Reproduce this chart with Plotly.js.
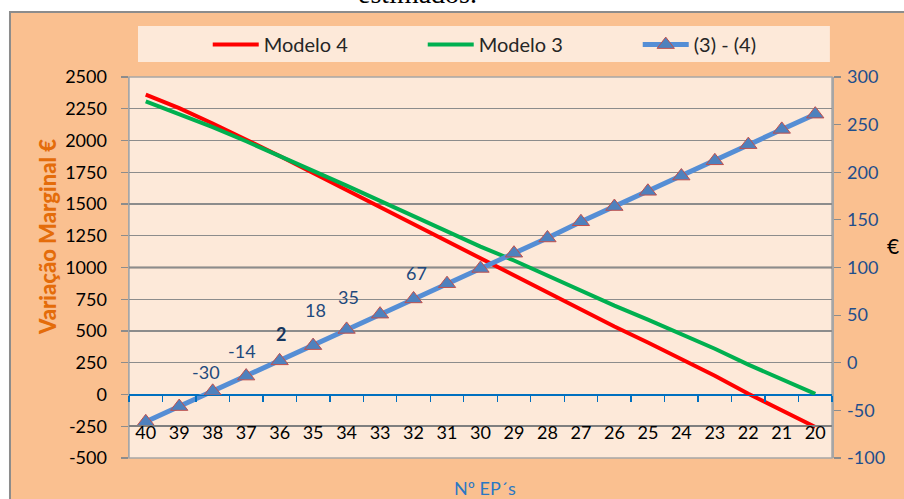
<!DOCTYPE html>
<html>
<head>
<meta charset="utf-8">
<script src="https://cdn.plot.ly/plotly-3.0.1.min.js"></script>
<style>
  html, body { margin: 0; padding: 0; background: #ffffff; }
  #chart { width: 904px; height: 499px; }
</style>
</head>
<body>
<div id="chart"></div>
<script>
// Número de EP's (category axis, read from left to right)
const categories = ['40','39','38','37','36','35','34','33','32','31','30',
                    '29','28','27','26','25','24','23','22','21','20'];

// Variação marginal (€), left axis
const modelo4 = [2362, 2255, 2134, 2008, 1878, 1744, 1610, 1474, 1338, 1202, 1066,
                 940, 804, 667, 536, 410, 279, 148, 6, -125, -256];
const modelo3 = [2308, 2210, 2105, 1994, 1880, 1762, 1645, 1525, 1405, 1285, 1165,
                 1055, 935, 815, 700, 590, 475, 360, 235, 120, 5];

// Diferença (3) - (4) em €, right axis
const diff34 = [-62, -46, -30, -14, 2, 18, 35, 51, 67, 83, 99,
                115, 131, 148, 164, 180, 196, 212, 229, 245, 261];

// Points of (3) - (4) that carry a value label
const labelledCats = ['38', '37', '36', '35', '34', '32'];

// Axis ranges and ticks
const leftRange = [-500, 2500];
const leftStep = 250;
const rightRange = [-100, 300];
const rightStep = 50;

// ---- styling ----
const FONT = 'Lato, "Open Sans", sans-serif';
const ORANGE_BG = '#FAC090';
const PLOT_BG = '#FDE9D9';
const GRID = '#8C8C8C';
const NAVY = '#1F497D';
const AXIS_BLUE = '#0070C0';

// label offsets (px) relative to each labelled point, same order as labelledCats
const labelOffsets = [[-7, 19], [-4, 25], [1, 27], [2, 36], [2, 32], [3, 26]];

// fraction of the plot height where a given left-axis value sits
const yFrac = v => (v - leftRange[0]) / (leftRange[1] - leftRange[0]);

// tick values for a range/step, labelled with a plain hyphen minus
function tickList(range, step) {
  const vals = [];
  for (let v = range[0]; v <= range[1]; v += step) vals.push(v);
  return { tickvals: vals, ticktext: vals.map(v => String(v)) };
}
const leftTicks = tickList(leftRange, leftStep);
const rightTicks = tickList(rightRange, rightStep);
// category boundaries (between neighbouring categories) for the tick marks on the zero axis
const catBounds = categories.concat(['']).map((c, i) => i - 0.5);

const traces = [
  {
    name: 'Modelo 4', type: 'scatter', mode: 'lines',
    x: categories, y: modelo4, xaxis: 'x', yaxis: 'y',
    line: { color: '#FF0000', width: 4 }
  },
  {
    name: 'Modelo 3', type: 'scatter', mode: 'lines',
    x: categories, y: modelo3, xaxis: 'x', yaxis: 'y',
    line: { color: '#00B050', width: 4 }
  },
  {
    name: '(3) - (4)', type: 'scatter', mode: 'lines+markers',
    x: categories, y: diff34, xaxis: 'x', yaxis: 'y2',
    line: { color: '#558ED5', width: 5 },
    marker: { symbol: 'triangle-up', size: 15, color: '#4F81BD',
              line: { color: '#C0504D', width: 1 } }
  },
  // empty trace: gives the zero-crossing axis (x2 on y3) its own subplot
  {
    type: 'scatter', x: [], y: [], xaxis: 'x2', yaxis: 'y3',
    showlegend: false, hoverinfo: 'skip'
  }
];

const valueLabels = labelledCats.map((c, k) => {
  const idx = categories.indexOf(c);
  const v = diff34[idx];
  const bold = v === 2;
  return {
    xref: 'x', yref: 'y2', x: idx, y: v,
    text: bold ? '<b>' + v + '</b>' : String(v),
    showarrow: false,
    xshift: labelOffsets[k][0], yshift: labelOffsets[k][1],
    font: { family: FONT, size: 18, color: bold ? '#17375E' : NAVY }
  };
});

const layout = {
  width: 904, height: 499,
  margin: { l: 129, r: 72, t: 77, b: 41 },
  paper_bgcolor: '#ffffff',
  plot_bgcolor: 'rgba(0,0,0,0)',
  showlegend: true,
  legend: {
    orientation: 'h', x: 0.112, xanchor: 'left', y: 1.085, yanchor: 'middle',
    bgcolor: 'rgba(0,0,0,0)', font: { family: FONT, size: 20, color: '#262626' },
    entrywidth: 154, itemwidth: 46, traceorder: 'normal'
  },
  // category labels, sitting on the -250 line
  xaxis: {
    type: 'category', categoryorder: 'array', categoryarray: categories,
    range: [-0.5, categories.length - 0.5],
    anchor: 'free', position: yFrac(-250),
    showline: true, linecolor: '#7F7F7F', linewidth: 2,
    ticks: '', showgrid: false, zeroline: false,
    ticklabelstandoff: -10,
    tickfont: { family: FONT, size: 18, color: '#000000' }
  },
  // horizontal axis crossing at zero: bottom edge of y3, whose domain starts at 0 €
  xaxis2: {
    anchor: 'y3', domain: [0, 1],
    range: [-0.5, categories.length - 0.5],
    tickmode: 'array', tickvals: catBounds, showticklabels: false,
    showline: true, linecolor: AXIS_BLUE, linewidth: 1.3,
    ticks: 'outside', ticklen: 6, tickcolor: AXIS_BLUE, tickwidth: 1.3,
    showgrid: false, zeroline: false
  },
  yaxis3: {
    anchor: 'x2', domain: [yFrac(0), 1], visible: false,
    range: [0, 1], showgrid: false, zeroline: false
  },
  yaxis: {
    range: leftRange, tickmode: 'array',
    tickvals: leftTicks.tickvals, ticktext: leftTicks.ticktext,
    showgrid: true, gridcolor: GRID, gridwidth: 1.2,
    zeroline: true, zerolinecolor: AXIS_BLUE, zerolinewidth: 1.3,
    showline: true, linecolor: '#A6A6A6', linewidth: 1.5, mirror: false,
    ticks: 'outside', ticklen: 7, tickcolor: GRID, tickwidth: 1.2,
    ticklabelstandoff: 10,
    tickfont: { family: FONT, size: 18, color: '#000000' }
  },
  yaxis2: {
    overlaying: 'y', side: 'right', range: rightRange, tickmode: 'array',
    tickvals: rightTicks.tickvals, ticktext: rightTicks.ticktext,
    showgrid: false, zeroline: false,
    showline: true, linecolor: '#A6A6A6', linewidth: 1.5,
    ticks: 'outside', ticklen: 7, tickcolor: GRID, tickwidth: 1.2,
    ticklabelstandoff: 3,
    tickfont: { family: FONT, size: 18, color: '#1F4E8C' }
  },
  shapes: [
    // chart area
    { type: 'rect', xref: 'paper', yref: 'paper', layer: 'below',
      x0: -0.1693, x1: 1.3, y0: -0.3, y1: 1.1706,
      fillcolor: ORANGE_BG, line: { color: '#8C8C8C', width: 2 } },
    // legend box
    { type: 'rect', xref: 'paper', yref: 'paper', layer: 'below',
      x0: 0.0128, x1: 0.997, y0: 1.0394, y1: 1.1339,
      fillcolor: PLOT_BG, line: { width: 0 } },
    // plot area
    { type: 'rect', xref: 'paper', yref: 'paper', layer: 'below',
      x0: 0, x1: 1, y0: 0, y1: 1,
      fillcolor: PLOT_BG, line: { color: '#A6A6A6', width: 1.5 } },
    // emphasised reference line at 1000 €
    { type: 'line', xref: 'paper', yref: 'y', layer: 'below',
      x0: 0, x1: 1, y0: 1000, y1: 1000,
      line: { color: '#7F7F7F', width: 2 } }
  ],
  annotations: [
    { xref: 'paper', yref: 'paper', x: 0.41, y: 1.172, xanchor: 'center', yanchor: 'bottom',
      text: 'estimados.', showarrow: false,
      font: { family: '"Liberation Serif", serif', size: 28, color: '#000000' } },
    { xref: 'paper', yref: 'paper', x: -0.1166, y: 0.58, xanchor: 'center', yanchor: 'middle',
      text: 'Variação Marginal €', textangle: -90, showarrow: false,
      font: { family: FONT, size: 22, weight: 900, color: '#E46C0A' } },
    { xref: 'paper', yref: 'paper', x: 1.0868, y: 0.559, xanchor: 'center', yanchor: 'middle',
      text: '€', showarrow: false,
      font: { family: FONT, size: 21, color: '#000000' } },
    { xref: 'paper', yref: 'paper', x: 0.506, y: -0.08, xanchor: 'center', yanchor: 'middle',
      text: 'Nº EP´s', showarrow: false,
      font: { family: FONT, size: 18, color: '#2A78C4' } }
  ].concat(valueLabels)
};

Plotly.newPlot('chart', traces, layout, { staticPlot: true, displayModeBar: false });
</script>
</body>
</html>
